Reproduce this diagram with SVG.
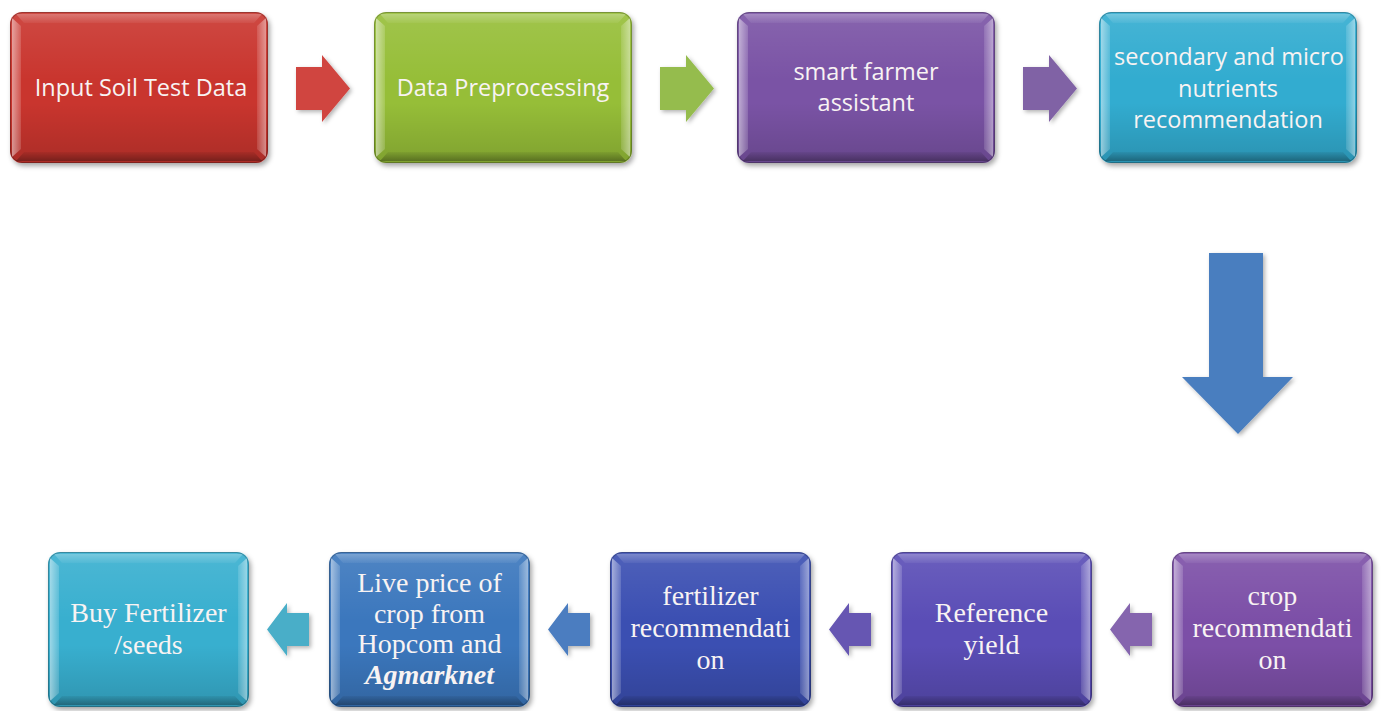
<svg xmlns="http://www.w3.org/2000/svg" xmlns:xlink="http://www.w3.org/1999/xlink" width="1383" height="711" viewBox="0 0 1383 711">
<style>
.tt{font-family:"Open Sans","Noto Sans",sans-serif;font-size:23.5px;fill:#f8f3f3;text-anchor:middle}
.bt{font-family:"Liberation Serif","DejaVu Serif",serif;font-size:28px;fill:#f8f3f3;text-anchor:middle}
.bi{font-weight:bold;font-style:italic}
.base{filter:url(#sh)}
.arr{filter:url(#ash)}
</style>
<defs>
<filter id="sh" x="-10%" y="-10%" width="125%" height="130%">
<feDropShadow dx="2" dy="3" stdDeviation="2.5" flood-color="#000" flood-opacity="0.35"/>
</filter>
<filter id="ash" x="-20%" y="-20%" width="150%" height="150%">
<feDropShadow dx="2" dy="2" stdDeviation="2" flood-color="#000" flood-opacity="0.3"/>
</filter>
<linearGradient id="gV" x1="0" y1="0" x2="0" y2="1">
<stop offset="0" stop-color="#fff" stop-opacity="0.1"/>
<stop offset="0.45" stop-color="#fff" stop-opacity="0"/>
<stop offset="0.6" stop-color="#000" stop-opacity="0"/>
<stop offset="1" stop-color="#000" stop-opacity="0.15"/>
</linearGradient>
<linearGradient id="gL" x1="0" y1="0" x2="1" y2="0">
<stop offset="0" stop-color="#fff" stop-opacity="0.5"/>
<stop offset="1" stop-color="#fff" stop-opacity="0.15"/>
</linearGradient>
<linearGradient id="gR" x1="0" y1="0" x2="1" y2="0">
<stop offset="0" stop-color="#fff" stop-opacity="0.12"/>
<stop offset="1" stop-color="#fff" stop-opacity="0.45"/>
</linearGradient>
<linearGradient id="gT" x1="0" y1="0" x2="0" y2="1">
<stop offset="0" stop-color="#fff" stop-opacity="0.25"/>
<stop offset="1" stop-color="#fff" stop-opacity="0.05"/>
</linearGradient>
<linearGradient id="gB" x1="0" y1="0" x2="0" y2="1">
<stop offset="0" stop-color="#000" stop-opacity="0.05"/>
<stop offset="1" stop-color="#000" stop-opacity="0.3"/>
</linearGradient>
<g id="bevT">
<rect width="258" height="151" rx="12" fill="url(#gV)"/>
<polygon points="2,6 11,14 11,137 2,145" fill="url(#gL)"/>
<polygon points="256,6 247,14 247,137 256,145" fill="url(#gR)"/>
<polygon points="6,2 252,2 244,11 14,11" fill="url(#gT)"/>
<polygon points="6,149 252,149 244,140 14,140" fill="url(#gB)"/>
<rect x="0.5" y="0.5" width="257" height="150" rx="12" fill="none" stroke="#000" stroke-opacity="0.25"/>
</g>
<g id="bevB">
<rect width="201" height="155" rx="12" fill="url(#gV)"/>
<polygon points="2,6 11,14 11,141 2,149" fill="url(#gL)"/>
<polygon points="199,6 190,14 190,141 199,149" fill="url(#gR)"/>
<polygon points="6,2 195,2 187,11 14,11" fill="url(#gT)"/>
<polygon points="6,153 195,153 187,144 14,144" fill="url(#gB)"/>
<rect x="0.5" y="0.5" width="200" height="154" rx="12" fill="none" stroke="#000" stroke-opacity="0.25"/>
</g>
</defs>
<rect width="1383" height="711" fill="#ffffff"/>

<g id="connectors">
<polygon class="arr" fill="#d04541" points="296,67 322,67 322,55 350,88.5 322,122 322,110 296,110"/>
<polygon class="arr" fill="#95bc4d" points="660,67 686,67 686,55 714,88.5 686,122 686,110 660,110"/>
<polygon class="arr" fill="#8062a5" points="1023,67 1049,67 1049,55 1077,88.5 1049,122 1049,110 1023,110"/>
<polygon class="arr" fill="#4a7ebf" points="1209,253 1263,253 1263,377 1293,377 1238,434 1182,377 1209,377"/>
<polygon class="arr" fill="#8565ae" points="1152,613 1130,613 1130,603 1110,629.5 1130,656 1130,646 1152,646"/>
<polygon class="arr" fill="#6657b2" points="871,613 849,613 849,603 829,629.5 849,656 849,646 871,646"/>
<polygon class="arr" fill="#4b7dc0" points="590,613 568,613 568,603 548,629.5 568,656 568,646 590,646"/>
<polygon class="arr" fill="#49aec8" points="309,613 287,613 287,603 267,629.5 287,656 287,646 309,646"/>
</g>

<g id="n1" transform="translate(10,12)">
<rect class="base" width="258" height="151" rx="12" fill="#c9352f"/>
<use xlink:href="#bevT"/>
<text class="tt" x="131" y="84">Input Soil Test Data</text>
</g>
<g id="n2" transform="translate(374,12)">
<rect class="base" width="258" height="151" rx="12" fill="#96be38"/>
<use xlink:href="#bevT"/>
<text class="tt" x="129" y="84">Data Preprocessing</text>
</g>
<g id="n3" transform="translate(737,12)">
<rect class="base" width="258" height="151" rx="12" fill="#7a53a5"/>
<use xlink:href="#bevT"/>
<text class="tt" x="129" y="68">smart farmer</text>
<text class="tt" x="129" y="99">assistant</text>
</g>
<g id="n4" transform="translate(1099,12)">
<rect class="base" width="258" height="151" rx="12" fill="#31acd0"/>
<use xlink:href="#bevT"/>
<text class="tt" x="130" y="53">secondary and micro</text>
<text class="tt" x="129" y="84.5">nutrients</text>
<text class="tt" x="129" y="116">recommendation</text>
</g>

<g id="n5" transform="translate(1172,552)">
<rect class="base" width="201" height="155" rx="12" fill="#7b4fa7"/>
<use xlink:href="#bevB"/>
<text class="bt" x="100.5" y="53">crop</text>
<text class="bt" x="100.5" y="85">recommendati</text>
<text class="bt" x="100.5" y="117">on</text>
</g>
<g id="n6" transform="translate(891,552)">
<rect class="base" width="201" height="155" rx="12" fill="#5a4db6"/>
<use xlink:href="#bevB"/>
<text class="bt" x="100.5" y="70">Reference</text>
<text class="bt" x="100.5" y="102">yield</text>
</g>
<g id="n7" transform="translate(610,552)">
<rect class="base" width="201" height="155" rx="12" fill="#3a4fb2"/>
<use xlink:href="#bevB"/>
<text class="bt" x="100.5" y="53">fertilizer</text>
<text class="bt" x="100.5" y="85">recommendati</text>
<text class="bt" x="100.5" y="117">on</text>
</g>
<g id="n8" transform="translate(329,552)">
<rect class="base" width="201" height="155" rx="12" fill="#3b77bd"/>
<use xlink:href="#bevB"/>
<text class="bt" x="100.5" y="40">Live price of</text>
<text class="bt" x="100.5" y="70.5">crop from</text>
<text class="bt" x="100.5" y="101">Hopcom and</text>
<text class="bt bi" x="100.5" y="131.5">Agmarknet</text>
</g>
<g id="n9" transform="translate(48,552)">
<rect class="base" width="201" height="155" rx="12" fill="#37afcf"/>
<use xlink:href="#bevB"/>
<text class="bt" x="100.5" y="70">Buy Fertilizer</text>
<text class="bt" x="100.5" y="102">/seeds</text>
</g>
</svg>
